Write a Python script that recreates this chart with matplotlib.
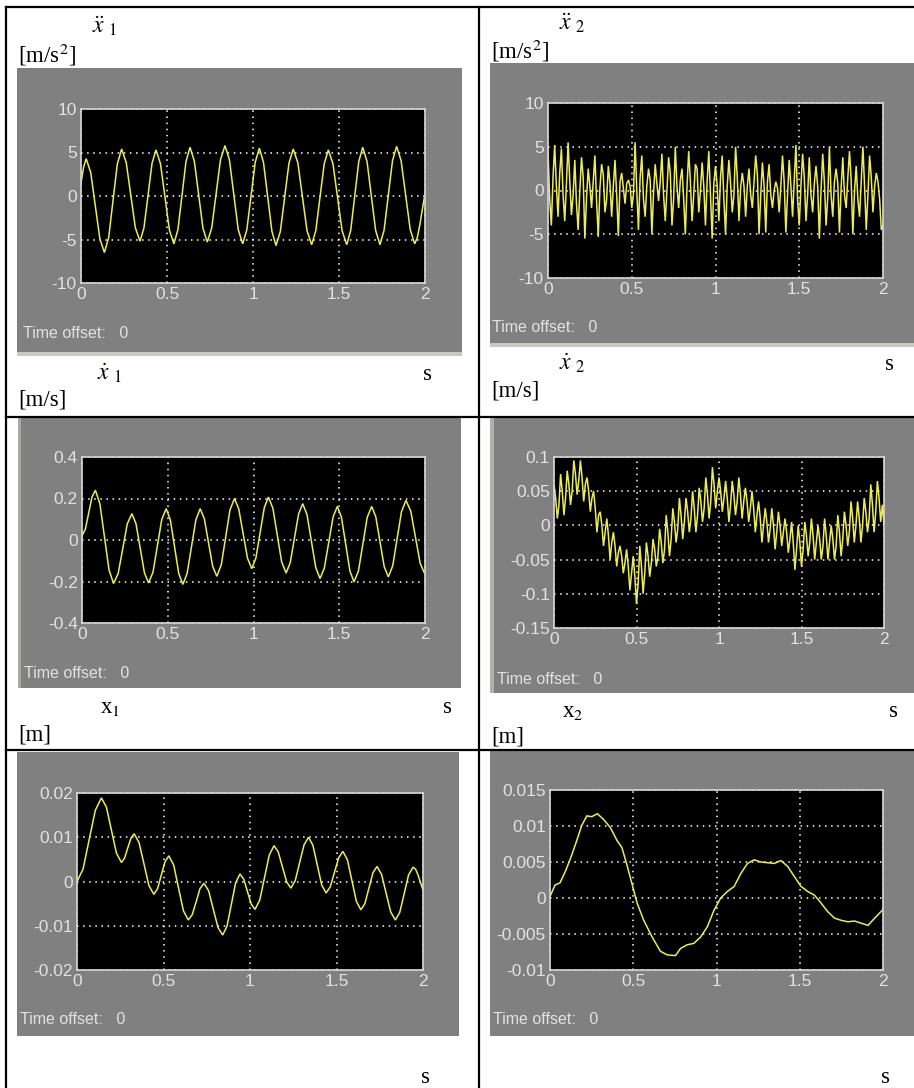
import numpy as np
import matplotlib
matplotlib.use("Agg")
import matplotlib.pyplot as plt
from matplotlib.patches import Rectangle
from matplotlib.lines import Line2D

plt.rcParams['mathtext.fontset'] = 'stix'

W, H = 914, 1088

# ---------------- data ----------------
xticks = [0, 0.5, 1, 1.5, 2]
xtick_labels = ['0', '0.5', '1', '1.5', '2']

# panel 1: x1 acceleration [m/s^2]
t_acc1 = [0.0, 0.015, 0.03, 0.0565, 0.083, 0.1095, 0.136, 0.161, 0.186, 0.211, 0.236, 0.263, 0.2895, 0.316,
          0.343, 0.366, 0.3895, 0.413, 0.436, 0.462, 0.488, 0.514, 0.54, 0.5635, 0.587, 0.6105, 0.634, 0.659,
          0.684, 0.709, 0.734, 0.760, 0.7855, 0.811, 0.837, 0.863, 0.8885, 0.914, 0.94, 0.964, 0.9885, 1.013,
          1.037, 1.061, 1.0855, 1.110, 1.134, 1.159, 1.184, 1.209, 1.234, 1.261, 1.2875, 1.314, 1.341, 1.365,
          1.3895, 1.414, 1.438, 1.465, 1.4915, 1.518, 1.545, 1.568, 1.5915, 1.615, 1.638, 1.663, 1.688, 1.713,
          1.738, 1.762, 1.7865, 1.811, 1.835, 1.861, 1.8875, 1.914, 1.94, 1.955, 1.97, 1.985, 2.0]
v_acc1 = [1.5, 3.3, 4.3, 2.7, -1.1, -4.9, -6.5, -4.76, -0.55, 3.66, 5.4, 3.85, 0.1, -3.65, -5.2, -3.66, 0.05,
          3.76, 5.3, 3.72, -0.1, -3.92, -5.5, -3.87, 0.05, 3.97, 5.6, 4.0, 0.15, -3.7, -5.3, -3.67, 0.25, 4.17,
          5.8, 4.15, 0.15, -3.85, -5.5, -3.89, 0.0, 3.89, 5.5, 3.86, -0.1, -4.06, -5.7, -4.07, -0.15, 3.77, 5.4,
          3.79, -0.1, -3.99, -5.6, -4.0, -0.15, 3.7, 5.3, 3.7, -0.15, -4.0, -5.6, -3.96, 0.0, 3.96, 5.6, 3.96,
          0.0, -3.96, -5.6, -3.95, 0.05, 4.05, 5.7, 4.06, 0.1, -3.86, -5.5, -4.8, -3.3, -1.5, 0.3]

# panel 2: x2 acceleration [m/s^2], sampled every 0.01 s
t_acc2 = np.round(np.arange(201) * 0.01, 2)
v_acc2 = [4.5, -1.0, -4.0, 1.5, 5.2, 0.5, -3.0, 2.0, 4.8, -0.5, -3.5, 0.8, 5.5, 1.0, -2.8, -0.5,
          3.5, -1.5, -4.5, 0.0, 3.8, 1.5, -5.5, -0.8, 2.5, 0.5, -2.0, 1.0, 4.0, -1.2, -5.3, 0.3,
          3.0, 1.8, -2.5, -1.0, 2.8, 0.8, -3.0, 0.5, 3.5, -0.5, -5.2, 1.0, 2.0, 0.2, -1.5, 0.8,
          1.2, 0.5, -2.0, -0.5, 5.5, 0.0, -4.5, 1.5, 4.0, -1.0, -3.0, 0.5, 2.5, 1.2, -5.0, -0.3,
          3.0, 0.8, -1.2, 1.0, 4.2, -0.5, -3.5, 0.0, 3.8, 2.0, -4.0, -1.0, 5.0, 0.5, -2.0, 1.2,
          2.5, -1.0, -5.0, 0.5, 4.5, 1.0, -3.5, -0.5, 3.0, 2.5, -2.5, 0.0, 3.2, 0.5, -4.0, 1.0,
          4.5, -0.5, -5.5, 0.8, 2.8, 0.5, -3.5, 1.5, 4.0, -1.0, -5.0, 0.5, 3.5, 0.8, -2.5, -0.5,
          5.0, 1.5, -3.5, 0.3, 2.0, 0.5, -3.0, 0.5, 2.5, -0.5, -2.0, 1.0, 4.0, 1.8, -5.0, -0.5,
          3.2, 0.5, -4.8, 1.0, 3.0, -0.5, -2.0, 0.0, 1.0, 0.3, -2.5, 0.5, 4.0, 1.0, -4.8, -0.5,
          3.5, 0.5, -3.0, 1.0, 5.2, -1.0, -4.0, 0.5, 4.2, 1.5, -3.5, -0.5, 3.8, -0.5, -2.5, 0.8,
          2.8, 0.5, -5.5, 0.0, 4.2, 1.0, -4.0, -0.8, 5.0, -0.5, -3.0, 1.0, 2.5, 0.8, -4.8, 0.3,
          3.8, -0.5, -2.0, 1.5, 4.5, 1.2, -5.0, 0.0, 2.8, -1.0, -3.0, 1.0, 5.0, 0.5, -4.5, -0.5,
          4.0, 1.5, -2.5, 0.5, 2.0, 1.0, -1.0, -4.5, -4.0]

# panel 3: x1 velocity [m/s]
t_vel1 = [0, 0.0195, 0.039, 0.0585, 0.078, 0.1045, 0.131, 0.1575, 0.184, 0.211, 0.2375, 0.264, 0.291, 0.315,
          0.3395, 0.364, 0.388, 0.414, 0.4395, 0.465, 0.491, 0.515, 0.5395, 0.564, 0.588, 0.613, 0.6385, 0.664,
          0.689, 0.713, 0.7375, 0.762, 0.786, 0.812, 0.8375, 0.863, 0.889, 0.914, 0.9395, 0.965, 0.99, 1.014,
          1.0385, 1.063, 1.087, 1.113, 1.1385, 1.164, 1.19, 1.214, 1.2385, 1.263, 1.287, 1.312, 1.3375, 1.363,
          1.388, 1.413, 1.4385, 1.464, 1.489, 1.513, 1.5375, 1.562, 1.586, 1.612, 1.6375, 1.663, 1.689, 1.713,
          1.7375, 1.762, 1.786, 1.812, 1.8375, 1.863, 1.889, 1.917, 1.9445, 1.972, 2.0]
v_vel1 = [0.02, 0.052, 0.13, 0.208, 0.24, 0.174, 0.015, -0.144, -0.21, -0.161, -0.042, 0.078, 0.127, 0.078,
          -0.04, -0.158, -0.207, -0.155, -0.028, 0.099, 0.151, 0.097, -0.032, -0.161, -0.214, -0.161, -0.032,
          0.097, 0.151, 0.103, -0.012, -0.127, -0.175, -0.12, 0.0125, 0.145, 0.2, 0.15, 0.031, -0.088, -0.138,
          -0.087, 0.035, 0.156, 0.207, 0.153, 0.024, -0.105, -0.159, -0.11, 0.008, 0.126, 0.175, 0.122, -0.006,
          -0.133, -0.186, -0.135, -0.012, 0.111, 0.162, 0.109, -0.02, -0.149, -0.202, -0.149, -0.02, 0.109,
          0.162, 0.112, -0.008, -0.128, -0.178, -0.124, 0.007, 0.137, 0.191, 0.139, 0.013, -0.113, -0.165]

# panel 4: x2 velocity [m/s], sampled every 0.01 s
t_vel2 = np.round(np.arange(201) * 0.01, 2)
v_vel2 = [0.06, 0.04, 0.01, 0.03, 0.075, 0.05, 0.015, 0.04, 0.08, 0.06, 0.03, 0.05, 0.095, 0.075, 0.045, 0.065,
          0.095, 0.07, 0.035, 0.06, 0.07, 0.05, 0.02, 0.04, 0.05, 0.025, -0.01, 0.015, 0.02, 0.0, -0.03, -0.01,
          0.01, -0.015, -0.05, -0.025, -0.01, -0.03, -0.06, -0.04, -0.03, -0.045, -0.07, -0.055,
          -0.035, -0.06, -0.095, -0.07, -0.045, -0.075, -0.115, -0.085, -0.03, -0.06, -0.1, -0.07,
          -0.025, -0.045, -0.075, -0.055, -0.02, -0.035, -0.06, -0.045, -0.005, -0.025, -0.055, -0.035,
          0.015, -0.01, -0.045, -0.02, 0.025, 0.005, -0.025, -0.005, 0.04, 0.015, -0.02, 0.005,
          0.04, 0.02, -0.01, 0.01, 0.05, 0.025, -0.01, 0.015, 0.055, 0.035, 0.005, 0.025,
          0.07, 0.045, 0.01, 0.035, 0.085, 0.06, 0.025, 0.05, 0.07, 0.05, 0.02, 0.04,
          0.065, 0.04, 0.005, 0.03, 0.065, 0.045, 0.015, 0.035, 0.07, 0.045, 0.01, 0.035,
          0.055, 0.035, 0.005, 0.025, 0.05, 0.025, -0.01, 0.015, 0.035, 0.01, -0.025, 0.0,
          0.025, 0.005, -0.025, -0.005, 0.025, 0.0, -0.035, -0.01, 0.02, 0.0, -0.03, -0.01,
          0.01, -0.01, -0.04, -0.02, 0.005, -0.025, -0.065, -0.035, 0.0, -0.025, -0.06, -0.035,
          0.005, -0.015, -0.045, -0.025, 0.01, -0.015, -0.05, -0.025, 0.0, -0.02, -0.05, -0.03,
          0.01, -0.015, -0.05, -0.025, 0.0, -0.02, -0.05, -0.03, 0.015, -0.01, -0.045, -0.02,
          0.02, 0.0, -0.03, -0.01, 0.035, 0.01, -0.025, 0.0, 0.035, 0.01, -0.025, 0.0,
          0.04, 0.02, -0.01, 0.01, 0.06, 0.03, -0.01, 0.02, 0.065, 0.04, 0.005, 0.03, 0.0]

# panel 5: x1 displacement [m]
t_pos1 = [0, 0.035, 0.0705, 0.106, 0.141, 0.17, 0.199, 0.228, 0.257, 0.275, 0.2935, 0.312, 0.330, 0.3585,
          0.387, 0.4155, 0.444, 0.466, 0.4875, 0.509, 0.531, 0.559, 0.587, 0.615, 0.643, 0.666, 0.6885, 0.711,
          0.734, 0.761, 0.788, 0.815, 0.842, 0.867, 0.892, 0.917, 0.942, 0.964, 0.9855, 1.007, 1.029, 1.0565,
          1.084, 1.1115, 1.139, 1.163, 1.1875, 1.212, 1.236, 1.2615, 1.287, 1.3125, 1.338, 1.3635, 1.389,
          1.4145, 1.44, 1.464, 1.4885, 1.513, 1.537, 1.563, 1.589, 1.615, 1.641, 1.664, 1.6875, 1.711, 1.734,
          1.7605, 1.787, 1.8135, 1.84, 1.8655, 1.891, 1.9165, 1.942, 1.957, 1.971, 1.986, 2.0]
v_pos1 = [0, 0.0028, 0.0095, 0.0161, 0.0189, 0.0168, 0.0116, 0.0064, 0.0043, 0.0053, 0.0076, 0.0098, 0.0108,
          0.0088, 0.004, -0.0009, -0.0029, -0.0016, 0.0015, 0.0045, 0.0058, 0.0037, -0.0015, -0.0066, -0.0087,
          -0.0075, -0.0046, -0.0016, -0.0004, -0.0021, -0.0063, -0.0104, -0.0121, -0.0101, -0.0052, -0.0003,
          0.0017, 0.0005, -0.0023, -0.0051, -0.0063, -0.0042, 0.0009, 0.006, 0.0081, 0.0067, 0.0033, -0.0001,
          -0.0015, 0.0002, 0.0043, 0.0083, 0.01, 0.0082, 0.0037, -0.0008, -0.0026, -0.0012, 0.0021, 0.0054,
          0.0068, 0.0049, 0.0002, -0.0045, -0.0064, -0.005, -0.0015, 0.002, 0.0034, 0.0016, -0.0027, -0.0069,
          -0.0087, -0.007, -0.0028, 0.0015, 0.0032, 0.0028, 0.0015, -0.0003, -0.0019]

# panel 6: x2 displacement [m]
t_pos2 = [0, 0.03, 0.06, 0.096, 0.131, 0.161, 0.191, 0.221, 0.251, 0.285, 0.322, 0.362, 0.402, 0.432, 0.462,
          0.492, 0.523, 0.563, 0.613, 0.663, 0.704, 0.754, 0.784, 0.824, 0.864, 0.905, 0.945, 0.985, 1.025,
          1.065, 1.106, 1.146, 1.186, 1.226, 1.266, 1.307, 1.347, 1.387, 1.427, 1.467, 1.508, 1.548, 1.588,
          1.628, 1.668, 1.709, 1.749, 1.789, 1.829, 1.869, 1.910, 1.950, 2.0]
v_pos2 = [0.0002, 0.0018, 0.0021, 0.0039, 0.006, 0.008, 0.0101, 0.0114, 0.0113, 0.0117, 0.0109, 0.0098, 0.008,
          0.007, 0.0046, 0.002, -0.0007, -0.0031, -0.0054, -0.0074, -0.0079, -0.0080, -0.007, -0.0065, -0.0063,
          -0.0054, -0.004, -0.0017, 0.0, 0.0009, 0.0016, 0.0034, 0.0048, 0.0053, 0.0050, 0.0049, 0.0048, 0.0052,
          0.0044, 0.003, 0.0016, 0.0009, 0.0004, -0.0007, -0.0019, -0.0028, -0.0031, -0.0033, -0.0032, -0.0035,
          -0.0038, -0.0028, -0.0016]

yticks_acc = [-10, -5, 0, 5, 10]
ylabels_acc = ['-10', '-5', '0', '5', '10']
yticks_vel1 = [-0.4, -0.2, 0, 0.2, 0.4]
ylabels_vel1 = ['-0.4', '-0.2', '0', '0.2', '0.4']
yticks_vel2 = [-0.15, -0.1, -0.05, 0, 0.05, 0.1]
ylabels_vel2 = ['-0.15', '-0.1', '-0.05', '0', '0.05', '0.1']
yticks_pos1 = [-0.02, -0.01, 0, 0.01, 0.02]
ylabels_pos1 = ['-0.02', '-0.01', '0', '0.01', '0.02']
yticks_pos2 = [-0.01, -0.005, 0, 0.005, 0.01, 0.015]
ylabels_pos2 = ['-0.01', '-0.005', '0', '0.005', '0.01', '0.015']

# ---------------- figure ----------------
fig = plt.figure(figsize=(W / 100, H / 100), dpi=100)
fig.patch.set_facecolor('white')


def fx(x):
    return x / W


def fy(y):
    return 1 - y / H


def frect(x0, y0, x1, y1, **kw):
    fig.patches.append(Rectangle((fx(x0), fy(y1)), (x1 - x0) / W, (y1 - y0) / H,
                                 transform=fig.transFigure, zorder=-5, **kw))


def fline(x0, y0, x1, y1, **kw):
    fig.lines.append(Line2D([fx(x0), fx(x1)], [fy(y0), fy(y1)], transform=fig.transFigure, zorder=-4, **kw))


GRAY = '#808080'
# gray scope panels
frect(17, 68, 462, 352, facecolor=GRAY, edgecolor='none')
frect(17, 352, 462, 356, facecolor='#c9c9c2', edgecolor='none')
frect(490, 63, 914, 343, facecolor=GRAY, edgecolor='none')
frect(490, 343, 914, 347, facecolor='#c9c9c2', edgecolor='none')
frect(18, 418, 461, 688, facecolor=GRAY, edgecolor='none')
frect(18, 418, 21, 688, facecolor='#a8a8a4', edgecolor='none')
frect(490, 418, 914, 693, facecolor=GRAY, edgecolor='none')
frect(490, 418, 494, 693, facecolor='#b0b0ac', edgecolor='none')
frect(17, 752, 459, 1036, facecolor=GRAY, edgecolor='none')
frect(490, 749, 914, 1036, facecolor=GRAY, edgecolor='none')

# table lines
LK = dict(color='black', linewidth=1.6)
fline(6, 7, 914, 7, **LK)
fline(6, 417, 914, 417, **LK)
fline(6, 750, 914, 750, **LK)
fline(6, 7, 6, 1088, **LK)
fline(479, 7, 479, 1088, **LK)

YEL = '#ecec5a'
FG = '#e2e2e2'


def scope(box, t, v, ylim, yt, ytl):
    x0, y0, x1, y1 = box
    ax = fig.add_axes([fx(x0), fy(y1), (x1 - x0) / W, (y1 - y0) / H])
    ax.set_zorder(2)
    ax.set_facecolor('black')
    ax.plot(t, v, color=YEL, linewidth=1.1, solid_joinstyle='miter')
    ax.set_xlim(0, 2)
    ax.set_ylim(*ylim)
    ax.set_xticks(xticks)
    ax.set_xticklabels(xtick_labels)
    ax.set_yticks(yt)
    ax.set_yticklabels(ytl)
    ax.tick_params(length=0, colors=FG, labelsize=12.5, pad=3)
    for lab in ax.get_xticklabels() + ax.get_yticklabels():
        lab.set_fontfamily('Liberation Sans')
    ax.grid(True, color='white', linestyle=(0, (1, 3)), linewidth=1.1)
    for s in ax.spines.values():
        s.set_color('#d8d8d8')
        s.set_linewidth(1.2)
    return ax


scope((81, 109, 425, 283), t_acc1, v_acc1, (-10, 10), yticks_acc, ylabels_acc)
scope((548, 103, 883, 278), t_acc2, v_acc2, (-10, 10), yticks_acc, ylabels_acc)
scope((82, 457, 425, 623), t_vel1, v_vel1, (-0.4, 0.4), yticks_vel1, ylabels_vel1)
scope((554, 457, 884, 628), t_vel2, v_vel2, (-0.15, 0.1), yticks_vel2, ylabels_vel2)
scope((77, 793, 423, 970), t_pos1, v_pos1, (-0.02, 0.02), yticks_pos1, ylabels_pos1)
scope((550, 790, 883, 970), t_pos2, v_pos2, (-0.01, 0.015), yticks_pos2, ylabels_pos2)

# "Time offset" captions
TO = dict(color=FG, fontsize=11.5, family='Liberation Sans', va='center', ha='left')
for (x, y) in [(23, 334), (492, 328), (24, 674), (497, 679), (20, 1020), (493, 1020)]:
    fig.text(fx(x), fy(y), 'Time offset:   0', **TO)

# labels in the table cells
SER = dict(family='Liberation Serif', fontsize=16.5, color='black', va='baseline')
MATH = dict(fontsize=17, color='black', va='baseline')

fig.text(fx(92), fy(33), r'$\ddot{x}\;{}_{\mathrm{1}}$', **MATH)
fig.text(fx(18), fy(63), r'[m/s$^{\mathrm{2}}$]', **SER)
fig.text(fx(97), fy(380), r'$\dot{x}\;{}_{\mathrm{1}}$', **MATH)
fig.text(fx(428), fy(380), 's', ha='center', **SER)
fig.text(fx(18), fy(405), '[m/s]', **SER)

fig.text(fx(559), fy(30), r'$\ddot{x}\;{}_{\mathrm{2}}$', **MATH)
fig.text(fx(491), fy(58), r'[m/s$^{\mathrm{2}}$]', **SER)
fig.text(fx(559), fy(370), r'$\dot{x}\;{}_{\mathrm{2}}$', **MATH)
fig.text(fx(890), fy(370), 's', ha='center', **SER)
fig.text(fx(491), fy(397), '[m/s]', **SER)

fig.text(fx(100), fy(713), r'x$_{\mathrm{1}}$', **SER)
fig.text(fx(448), fy(713), 's', ha='center', **SER)
fig.text(fx(18), fy(740), '[m]', **SER)

fig.text(fx(562), fy(717), r'x$_{\mathrm{2}}$', **SER)
fig.text(fx(893), fy(717), 's', ha='center', **SER)
fig.text(fx(491), fy(743), '[m]', **SER)

fig.text(fx(425), fy(1083), 's', ha='center', **SER)
fig.text(fx(886), fy(1083), 's', ha='center', **SER)

fig.savefig('out.png', dpi=100, facecolor='white')
